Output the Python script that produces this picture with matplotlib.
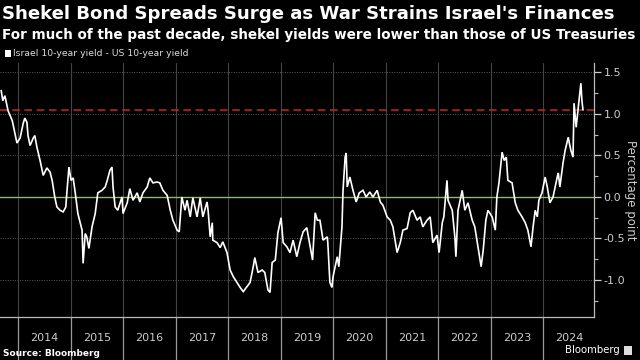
import matplotlib
matplotlib.use("Agg")
import matplotlib.pyplot as plt
from matplotlib.ticker import MultipleLocator, FixedLocator, NullFormatter

# ---- data (decimal year, spread in percentage points) ----
dates = [2013.68, 2013.71, 2013.75, 2013.81, 2013.89, 2013.94, 2013.98, 2014.04, 2014.10, 2014.13,
         2014.17, 2014.19, 2014.23, 2014.29, 2014.32, 2014.36, 2014.42, 2014.48, 2014.55, 2014.61,
         2014.65, 2014.70, 2014.74, 2014.80, 2014.86, 2014.91, 2014.93, 2014.97, 2015.01, 2015.05,
         2015.09, 2015.14, 2015.22, 2015.24, 2015.28, 2015.31, 2015.35, 2015.41, 2015.47, 2015.52,
         2015.60, 2015.66, 2015.70, 2015.75, 2015.79, 2015.81, 2015.85, 2015.90, 2015.98, 2016.00,
         2016.08, 2016.13, 2016.19, 2016.27, 2016.32, 2016.38, 2016.46, 2016.51, 2016.57, 2016.65,
         2016.70, 2016.76, 2016.84, 2016.90, 2016.95, 2017.03, 2017.07, 2017.12, 2017.18, 2017.22,
         2017.28, 2017.33, 2017.41, 2017.47, 2017.52, 2017.60, 2017.62, 2017.66, 2017.70, 2017.71,
         2017.79, 2017.85, 2017.90, 2017.98, 2018.04, 2018.10, 2018.17, 2018.23, 2018.29, 2018.36,
         2018.42, 2018.48, 2018.51, 2018.57, 2018.65, 2018.70, 2018.76, 2018.80, 2018.84, 2018.90,
         2018.95, 2019.01, 2019.05, 2019.12, 2019.18, 2019.24, 2019.31, 2019.37, 2019.43, 2019.50,
         2019.61, 2019.66, 2019.70, 2019.75, 2019.81, 2019.89, 2019.90, 2019.94, 2019.98, 2020.00,
         2020.08, 2020.11, 2020.17, 2020.19, 2020.23, 2020.25, 2020.27, 2020.32, 2020.38, 2020.44,
         2020.50, 2020.57, 2020.63, 2020.70, 2020.76, 2020.84, 2020.90, 2020.95, 2021.03, 2021.09,
         2021.14, 2021.22, 2021.28, 2021.33, 2021.41, 2021.47, 2021.52, 2021.60, 2021.66, 2021.71,
         2021.79, 2021.85, 2021.90, 2021.98, 2022.02, 2022.08, 2022.11, 2022.17, 2022.19, 2022.27,
         2022.32, 2022.34, 2022.38, 2022.46, 2022.51, 2022.57, 2022.65, 2022.70, 2022.76, 2022.82,
         2022.86, 2022.91, 2022.95, 2023.03, 2023.09, 2023.12, 2023.16, 2023.22, 2023.26, 2023.30,
         2023.33, 2023.41, 2023.47, 2023.52, 2023.60, 2023.66, 2023.71, 2023.77, 2023.81, 2023.85,
         2023.89, 2023.92, 2023.98, 2024.04, 2024.08, 2024.13, 2024.19, 2024.27, 2024.29, 2024.32,
         2024.38, 2024.42, 2024.48, 2024.50, 2024.53, 2024.57, 2024.59, 2024.63, 2024.67, 2024.72,
         2024.74, 2024.76]
spread = [1.28, 1.16, 1.22, 1.04, 0.92, 0.77, 0.65, 0.71, 0.89, 0.95,
          0.90, 0.74, 0.62, 0.71, 0.74, 0.60, 0.44, 0.26, 0.35, 0.30,
          0.20, 0.00, -0.12, -0.16, -0.18, -0.12, 0.05, 0.36, 0.20, 0.23,
          0.05, -0.20, -0.40, -0.80, -0.44, -0.48, -0.62, -0.36, -0.20, 0.05,
          0.08, 0.12, 0.20, 0.32, 0.36, 0.12, -0.12, -0.16, 0.00, -0.20,
          -0.07, 0.10, -0.04, 0.05, -0.06, 0.05, 0.12, 0.23, 0.17, 0.18,
          0.17, 0.08, 0.02, -0.16, -0.28, -0.40, -0.42, 0.00, -0.16, -0.04,
          -0.24, -0.01, -0.24, -0.01, -0.24, -0.06, -0.16, -0.48, -0.31, -0.52,
          -0.55, -0.61, -0.54, -0.67, -0.88, -0.96, -1.03, -1.09, -1.14, -1.08,
          -1.03, -0.84, -0.73, -0.91, -0.88, -0.91, -1.12, -1.15, -0.79, -0.76,
          -0.43, -0.25, -0.55, -0.60, -0.67, -0.52, -0.72, -0.55, -0.42, -0.37,
          -0.76, -0.19, -0.28, -0.28, -0.52, -0.48, -0.55, -1.03, -1.09, -0.96,
          -0.72, -0.84, -0.36, 0.08, 0.48, 0.53, 0.12, 0.24, 0.08, -0.06,
          0.05, 0.08, 0.00, 0.06, 0.00, 0.08, -0.06, -0.10, -0.24, -0.28,
          -0.36, -0.67, -0.55, -0.40, -0.38, -0.19, -0.16, -0.28, -0.24, -0.36,
          -0.28, -0.24, -0.55, -0.46, -0.67, -0.31, -0.24, 0.20, -0.04, -0.16,
          -0.48, -0.72, -0.16, 0.08, -0.16, -0.07, -0.28, -0.36, -0.60, -0.84,
          -0.64, -0.28, -0.16, -0.24, -0.40, 0.00, 0.17, 0.54, 0.44, 0.48,
          0.20, 0.17, -0.07, -0.16, -0.24, -0.31, -0.40, -0.60, -0.36, -0.16,
          -0.24, -0.04, 0.05, 0.24, 0.12, -0.07, 0.00, 0.24, 0.29, 0.12,
          0.41, 0.56, 0.72, 0.65, 0.56, 0.48, 1.13, 0.84, 1.08, 1.37,
          1.16, 1.05]
years = [2014, 2015, 2016, 2017, 2018, 2019, 2020, 2021, 2022, 2023, 2024]
year_labels = [str(y) for y in years]
ytick_values = [-1.0, -0.5, 0.0, 0.5, 1.0, 1.5]
latest_level = 1.05

title = "Shekel Bond Spreads Surge as War Strains Israel's Finances"
subtitle = "For much of the past decade, shekel yields were lower than those of US Treasuries"
legend_label = "Israel 10-year yield - US 10-year yield"

W, H = 640, 360
fig = plt.figure(figsize=(W / 100, H / 100), dpi=100, facecolor="black")
ax = fig.add_axes([0, 1 - 317 / H, 594 / W, (317 - 63) / H])
ax.set_facecolor("black")

ax.plot(dates, spread, color="white", lw=1.2, zorder=4, solid_joinstyle="miter")
ax.axhline(0, color="#8bc34a", lw=1.0, zorder=3)
ax.axhline(latest_level, color="#c62828", lw=1.1, ls=(0, (5, 3)), zorder=3)

ax.set_xlim(2013.657, 2024.97)
ax.set_ylim(-1.446, 1.614)

# grid
for v in ytick_values:
    ax.axhline(v, color="#5a5a5a", lw=0.7, ls=(0, (1, 1.5)), zorder=1)
for y in years:
    ax.axvline(y, color="#444444", lw=0.8, zorder=1)

# spines
for s in ["top", "left"]:
    ax.spines[s].set_visible(False)
ax.spines["bottom"].set_color("#bbbbbb")
ax.spines["right"].set_color("#bbbbbb")
ax.spines["bottom"].set_linewidth(0.9)
ax.spines["right"].set_linewidth(0.9)

# y axis on right
ax.yaxis.tick_right()
ax.yaxis.set_label_position("right")
ax.yaxis.set_major_locator(FixedLocator(ytick_values))
ax.yaxis.set_minor_locator(MultipleLocator(0.25))
ax.set_yticklabels([f"{v:.1f}" for v in ytick_values])
ax.tick_params(axis="y", which="major", colors="#cccccc", labelsize=8, length=5, width=0.9, pad=2)
ax.tick_params(axis="y", which="minor", colors="#bbbbbb", length=3, width=0.8)
ax.set_ylabel("Percentage point", color="#cccccc", fontsize=8.5, rotation=-90,
              va="center", ha="center")
ax.yaxis.set_label_coords(630 / 594, 0.5)

# x axis: long ticks at year boundaries, labels at mid-year
ax.xaxis.set_major_locator(FixedLocator(years))
ax.xaxis.set_major_formatter(NullFormatter())
ax.xaxis.set_minor_locator(FixedLocator([y + 0.5 for y in years]))
ax.set_xticklabels(year_labels, minor=True)
ax.tick_params(axis="x", which="major", colors="#999999", length=32, width=0.9, direction="out")
ax.tick_params(axis="x", which="minor", length=0, labelcolor="#cccccc", labelsize=8, pad=15)
for lab in ax.get_xticklabels(minor=True):
    lab.set_verticalalignment("center")

fig.canvas.draw()
renderer = fig.canvas.get_renderer()


def fit(t, target_w):
    bb = t.get_window_extent(renderer)
    t.set_fontsize(t.get_fontsize() * target_w / bb.width)


t1 = fig.text(2 / W, 1 - 14 / H, title, color="white", fontsize=14, fontweight="bold",
              va="center", ha="left")
fit(t1, 615)
t2 = fig.text(2 / W, 1 - 35 / H, subtitle, color="white", fontsize=11, fontweight="bold",
              va="center", ha="left")
fit(t2, 630)
fig.patches.append(plt.Rectangle((5 / W, 1 - 57 / H), 6 / W, 7 / H, transform=fig.transFigure,
                                 facecolor="white", edgecolor="none"))
t3 = fig.text(13 / W, 1 - 53.5 / H, legend_label, color="#dddddd", fontsize=7, va="center", ha="left")
fit(t3, 175)
t4 = fig.text(3 / W, 1 - 353 / H, "Source: Bloomberg", color="white", fontsize=7.5,
              fontweight="bold", va="center", ha="left")
fit(t4, 98)
t5 = fig.text(620 / W, 1 - 350 / H, "Bloomberg", color="white", fontsize=9, va="center", ha="right")
fit(t5, 55)
fig.patches.append(plt.Rectangle((624 / W, 1 - 355 / H), 8 / W, 9 / H, transform=fig.transFigure,
                                 facecolor="#dddddd", edgecolor="none"))

fig.savefig("out.png", dpi=100, facecolor="black")
